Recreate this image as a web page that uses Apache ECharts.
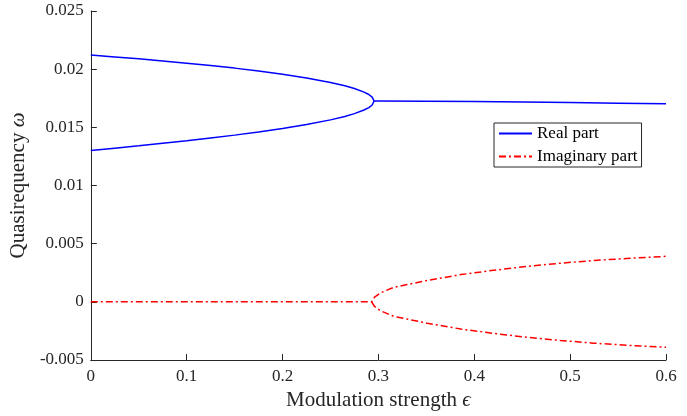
<!DOCTYPE html>
<html>
<head>
<meta charset="utf-8">
<script src="https://cdn.jsdelivr.net/npm/echarts@6/dist/echarts.min.js"></script>
<style>
html,body{margin:0;padding:0;background:#fff;}
#chart{width:687px;height:416px;}
</style>
</head>
<body>
<div id="chart"></div>
<script>
// Real part: two branches before the bifurcation
const branchEps   = [0, 0.025, 0.05, 0.075, 0.1, 0.125, 0.15, 0.175, 0.2, 0.225, 0.25, 0.265, 0.275, 0.285, 0.29, 0.2935, 0.2955];
const realUpper   = [0.02121, 0.02105, 0.02089, 0.02071, 0.02051, 0.02031, 0.02009, 0.01984, 0.01956, 0.01924, 0.01886, 0.01857, 0.01834, 0.01803, 0.01782, 0.0176, 0.01726];
const realLower   = [0.01301, 0.01321, 0.01341, 0.01363, 0.01385, 0.01409, 0.01433, 0.0146, 0.0149, 0.01524, 0.01564, 0.01593, 0.01618, 0.01649, 0.0167, 0.01692, 0.01726];
// Real part: merged branch after the bifurcation
const mergedEps   = [0.3, 0.35, 0.4, 0.45, 0.5, 0.55, 0.6];
const realMerged  = [0.01726, 0.01724, 0.01721, 0.01717, 0.01713, 0.01708, 0.01702];
// Imaginary part: zero before bifurcation, then +/- branches
const zeroEps     = [0, 0.1, 0.2, 0.293];
const zeroVals    = [0, 0, 0, 0];
const imagEps     = [0.293, 0.296, 0.3025, 0.316, 0.351, 0.386, 0.42, 0.455, 0.49, 0.524, 0.559, 0.6];
const imagUpper   = [0, 0.0004, 0.00078, 0.00125, 0.00184, 0.00234, 0.00271, 0.00305, 0.00332, 0.00355, 0.00373, 0.00391];
const imagLower   = [0, -0.0004, -0.00078, -0.00125, -0.00184, -0.00234, -0.00271, -0.00305, -0.00332, -0.00355, -0.00373, -0.00391];
// Axis ticks
const xTicks = [0, 0.1, 0.2, 0.3, 0.4, 0.5, 0.6];
const yTicks = [-0.005, 0, 0.005, 0.01, 0.015, 0.02, 0.025];

const zip = (xs, ys) => xs.map((x, i) => [x, ys[i]]);
const FONT = '"Liberation Serif", "Times New Roman", serif';
const AX = '#262626';

const chart = echarts.init(document.getElementById('chart'), null, {renderer: 'canvas'});
const realStyle = {color: '#0000ff', width: 1.5, type: 'solid'};
const imagStyle = {color: '#ff0000', width: 1.5, type: [7, 3, 2, 3]};

chart.setOption({
  animation: false,
  backgroundColor: '#ffffff',
  grid: {left: 89, right: 21, top: 11, bottom: 54, containLabel: false},
  legend: {
    orient: 'vertical',
    left: 494, top: 123,
    data: ['Real part', 'Imaginary part'],
    backgroundColor: '#ffffff',
    borderColor: AX, borderWidth: 1,
    padding: [2, 4, 2, 4],
    itemWidth: 33, itemHeight: 16, itemGap: 6,
    itemStyle: {opacity: 0},
    textStyle: {fontFamily: FONT, fontSize: 17, color: '#000'}
  },
  xAxis: {
    type: 'value', min: xTicks[0], max: xTicks[xTicks.length - 1], interval: 0.1,
    name: 'Modulation strength {i|ϵ}', nameLocation: 'middle', nameGap: 30,
    nameTextStyle: {fontFamily: FONT, fontSize: 21, color: '#262626',
      rich: {i: {fontFamily: FONT, fontSize: 21, fontStyle: 'italic', color: '#262626'}}},
    axisLine: {show: true, onZero: false, lineStyle: {color: AX, width: 1}},
    axisTick: {show: true, inside: true, length: 6, lineStyle: {color: AX}},
    axisLabel: {fontFamily: FONT, fontSize: 17, color: '#262626', margin: 8,
      formatter: v => String(Number(v.toFixed(3)))},
    splitLine: {show: false}
  },
  yAxis: {
    type: 'value', min: yTicks[0], max: yTicks[yTicks.length - 1], interval: 0.005,
    name: 'Quasirequency {i|ω}', nameLocation: 'middle', nameGap: 57,
    nameTextStyle: {fontFamily: FONT, fontSize: 21, color: '#262626',
      rich: {i: {fontFamily: FONT, fontSize: 21, fontStyle: 'italic', color: '#262626'}}},
    axisLine: {show: true, onZero: false, lineStyle: {color: AX, width: 1}},
    axisTick: {show: true, inside: true, length: 6, lineStyle: {color: AX}},
    axisLabel: {fontFamily: FONT, fontSize: 17, color: '#262626', margin: 7,
      formatter: v => String(Number(v.toFixed(3)))},
    splitLine: {show: false}
  },
  series: [
    {name: 'Real part', type: 'line', symbol: 'none', showSymbol: false,
     data: zip(branchEps, realUpper).concat(zip(mergedEps, realMerged)),
     lineStyle: realStyle, itemStyle: {color: '#0000ff'}},
    {name: 'Real part', type: 'line', symbol: 'none', showSymbol: false,
     data: zip(branchEps, realLower),
     lineStyle: realStyle, itemStyle: {color: '#0000ff'}},
    {name: 'Imaginary part', type: 'line', symbol: 'none', showSymbol: false,
     data: zip(zeroEps, zeroVals).concat(zip(imagEps, imagUpper).slice(1)),
     lineStyle: imagStyle, itemStyle: {color: '#ff0000'}},
    {name: 'Imaginary part', type: 'line', symbol: 'none', showSymbol: false,
     data: zip(imagEps, imagLower),
     lineStyle: imagStyle, itemStyle: {color: '#ff0000'}}
  ]
});
</script>
</body>
</html>
